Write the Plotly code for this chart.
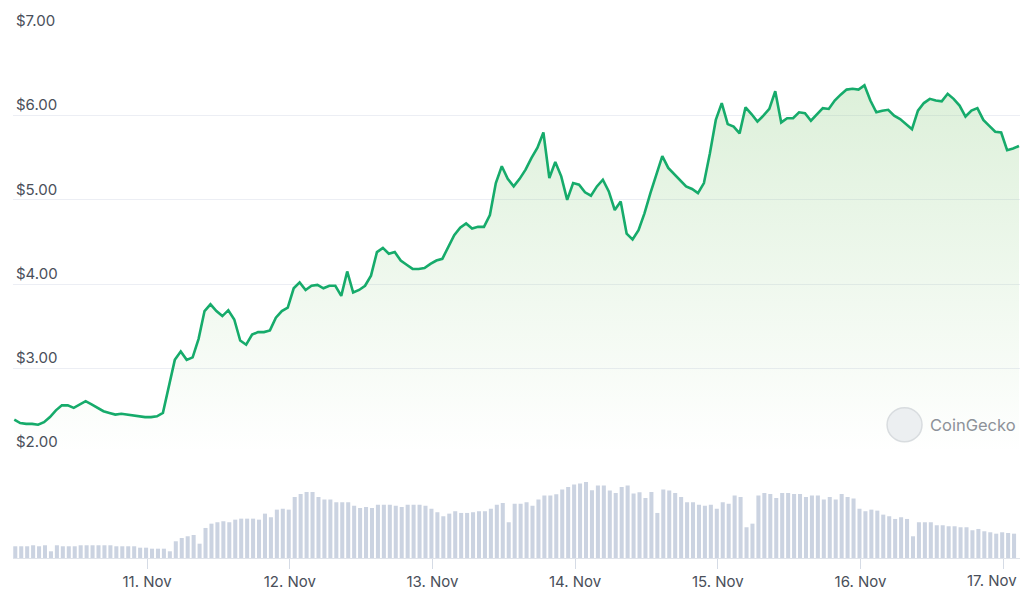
import pandas as pd
import plotly.graph_objects as go

# ---- data (hourly samples) ----
price = [
    2.39, 2.35, 2.34, 2.34, 2.33, 2.36, 2.42, 2.50, 2.56, 2.56,
    2.53, 2.57, 2.61, 2.57, 2.53, 2.49, 2.47, 2.45, 2.46, 2.45,
    2.44, 2.43, 2.42, 2.42, 2.43, 2.47, 2.78, 3.10, 3.20, 3.10,
    3.13, 3.35, 3.68, 3.76, 3.68, 3.62, 3.69, 3.58, 3.33, 3.28,
    3.40, 3.43, 3.43, 3.45, 3.60, 3.68, 3.72, 3.95, 4.02, 3.93,
    3.98, 3.99, 3.95, 3.98, 3.98, 3.86, 4.15, 3.90, 3.93, 3.98,
    4.10, 4.38, 4.43, 4.36, 4.38, 4.28, 4.23, 4.18, 4.18, 4.19,
    4.24, 4.28, 4.30, 4.45, 4.58, 4.67, 4.72, 4.66, 4.68, 4.68,
    4.82, 5.20, 5.40, 5.25, 5.16, 5.25, 5.36, 5.50, 5.62, 5.80,
    5.26, 5.45, 5.28, 5.00, 5.20, 5.18, 5.09, 5.05, 5.16, 5.24,
    5.10, 4.88, 4.98, 4.60, 4.53, 4.64, 4.84, 5.08, 5.30, 5.52,
    5.38, 5.31, 5.24, 5.16, 5.13, 5.08, 5.20, 5.55, 5.95, 6.15,
    5.90, 5.87, 5.79, 6.10, 6.02, 5.93, 6.00, 6.08, 6.29, 5.92,
    5.97, 5.97, 6.04, 6.03, 5.94, 6.02, 6.09, 6.08, 6.18, 6.25,
    6.31, 6.32, 6.31, 6.36, 6.18, 6.04, 6.06, 6.07, 6.00, 5.96,
    5.90, 5.84, 6.06, 6.15, 6.20, 6.18, 6.17, 6.26, 6.20, 6.12,
    5.99, 6.06, 6.09, 5.95, 5.88, 5.81, 5.80, 5.59, 5.61, 5.64,
]

volume = [
    11.7, 11.7, 11.7, 12.7, 11.7, 12.7, 6.7, 12.7, 11.7, 11.7,
    11.7, 12.7, 12.7, 12.7, 12.7, 12.7, 12.7, 11.7, 11.7, 11.7,
    11.7, 10.3, 10.3, 9.3, 9.3, 9.3, 6.7, 16.7, 20.0, 21.7,
    23.0, 14.3, 30.0, 34.3, 35.7, 36.7, 35.7, 38.3, 39.3, 39.3,
    39.3, 38.3, 44.3, 40.7, 48.3, 49.3, 48.3, 61.0, 64.0, 66.0,
    66.0, 61.0, 58.3, 58.3, 55.7, 55.7, 55.7, 52.3, 50.0, 51.0,
    50.0, 53.3, 53.3, 53.3, 52.3, 51.0, 53.3, 53.3, 53.3, 52.3,
    49.3, 45.7, 41.7, 44.3, 46.7, 45.0, 45.0, 45.7, 46.7, 46.7,
    49.3, 53.3, 55.0, 35.7, 54.3, 54.3, 55.7, 52.3, 58.3, 62.3,
    62.3, 63.7, 68.3, 71.0, 73.3, 74.3, 76.0, 67.7, 72.3, 72.3,
    67.3, 65.0, 71.0, 72.3, 64.3, 65.7, 60.0, 66.0, 45.0, 68.3,
    67.3, 65.0, 61.0, 55.7, 55.7, 53.3, 52.3, 53.3, 49.3, 55.7,
    54.3, 62.3, 61.0, 30.7, 34.3, 62.3, 65.0, 64.0, 60.0, 65.0,
    65.0, 64.0, 64.0, 61.0, 62.3, 62.3, 58.3, 61.0, 58.3, 64.0,
    61.0, 59.3, 49.3, 46.7, 48.3, 47.3, 43.3, 41.7, 39.0, 40.7,
    39.0, 21.7, 35.7, 35.7, 35.7, 32.7, 32.7, 31.7, 31.7, 30.7,
    30.7, 27.7, 29.0, 26.7, 25.7, 24.3, 25.7, 25.0, 24.3,
]

tick_dates = ["2024-11-11", "2024-11-12", "2024-11-13", "2024-11-14",
              "2024-11-15", "2024-11-16", "2024-11-17"]
tick_labels = ["11. Nov", "12. Nov", "13. Nov", "14. Nov",
               "15. Nov", "16. Nov", "17. Nov"]
price_ticks = [2, 3, 4, 5, 6, 7]
price_tick_labels = ["$2.00", "$3.00", "$4.00", "$5.00", "$6.00", "$7.00"]

times = pd.date_range("2024-11-10 01:40", periods=len(price), freq="h")
vol_times = times[:len(volume)] + pd.Timedelta(minutes=10)

LINE = "#16ab6b"
TXT = "#4a4f5a"
FONT = "Inter, 'Noto Sans', sans-serif"

fig = go.Figure()

fig.add_trace(go.Bar(
    x=vol_times, y=volume, yaxis="y2",
    marker=dict(color="#cbd3e1", line=dict(width=0)),
    width=0.68 * 3600 * 1000,
    hoverinfo="skip", showlegend=False,
))

fig.add_trace(go.Scatter(
    x=times, y=price, mode="lines",
    line=dict(color=LINE, width=2.6),
    fill="tozeroy",
    fillgradient=dict(
        type="vertical",
        colorscale=[[0, "rgba(140,205,130,0.0)"], [1, "rgba(140,205,130,0.30)"]],
        start=2.0, stop=6.4,
    ),
    showlegend=False,
))

# last day label is kept inside the page (shifted left of its tick, as in the reference)
axis_ticktext = tick_labels[:-1] + [""]

fig.update_layout(
    width=1024, height=590,
    margin=dict(l=13, r=4, t=31, b=32, pad=0, autoexpand=False),
    paper_bgcolor="white", plot_bgcolor="white",
    font=dict(family=FONT, color=TXT),
    xaxis=dict(
        type="date",
        range=["2024-11-10 01:27", "2024-11-17 02:50"],
        tickvals=tick_dates, ticktext=axis_ticktext,
        ticks="outside", ticklen=10, tickcolor="#d5dbe5", tickwidth=1,
        ticklabeloverflow="allow", automargin=False,
        showgrid=False, zeroline=False,
        showline=True, linecolor="#dfe3ea", linewidth=1,
        tickfont=dict(size=15, color=TXT, family=FONT),
        anchor="y2",
    ),
    yaxis=dict(
        domain=[0.1996, 1.0], range=[1.996, 7.006],
        tickvals=price_ticks, ticktext=price_tick_labels,
        ticklabelposition="inside top", ticklabeloverflow="allow",
        automargin=False,
        ticks="", showgrid=True, gridcolor="#eceef4", gridwidth=1,
        zeroline=False, showline=False,
        tickfont=dict(size=15, color=TXT, family=FONT),
        anchor="x",
    ),
    yaxis2=dict(
        domain=[0, 0.19], range=[0, 100], visible=False, anchor="x",
    ),
    shapes=[
        dict(type="circle", xref="paper", yref="paper",
             x0=0.868, x1=0.9027, y0=0.2205, y1=0.2852,
             fillcolor="#eceff1", line=dict(color="#d8dcdf", width=1.5),
             layer="above"),
    ],
    annotations=[
        dict(text="CoinGecko", xref="paper", yref="paper",
             x=0.9086, y=0.2529, xanchor="left", yanchor="middle",
             showarrow=False,
             font=dict(size=16.5, color="#8d9299", family=FONT)),
        dict(text=tick_labels[-1], xref="x", yref="paper",
             x=tick_dates[-1], y=-0.0435, xanchor="right", yanchor="middle",
             xshift=16, showarrow=False,
             font=dict(size=15, color=TXT, family=FONT)),
    ],
)

fig.write_html("out.html")
